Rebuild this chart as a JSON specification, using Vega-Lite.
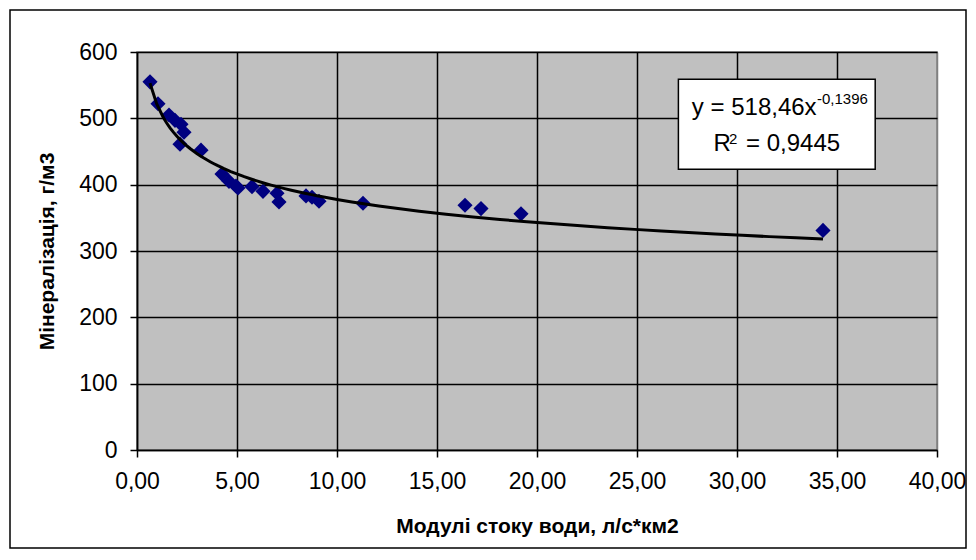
{
  "$schema": "https://vega.github.io/schema/vega-lite/v6.json",
  "width": 800,
  "height": 398,
  "autosize": {"type": "none"},
  "padding": {"left": 137, "top": 52, "right": 39, "bottom": 110},
  "background": "white",
  "config": {
    "font": "Liberation Sans",
    "view": {"fill": "#C0C0C0", "stroke": "#808080", "strokeWidth": 1.5},
    "axis": {
      "domainColor": "black",
      "domainWidth": 1.5,
      "tickColor": "black",
      "tickWidth": 1.5,
      "tickSize": 7,
      "gridWidth": 1.5,
      "labelFlush": false,
      "labelFont": "Liberation Sans",
      "labelFontSize": 23,
      "labelColor": "black",
      "titleFont": "Liberation Sans",
      "titleFontSize": 21,
      "titleFontWeight": "bold",
      "titleColor": "black"
    }
  },
  "datasets": {
    "points": [
      {"Q": 0.65, "M": 555},
      {"Q": 1.05, "M": 522},
      {"Q": 1.6, "M": 505},
      {"Q": 1.9, "M": 497},
      {"Q": 2.2, "M": 491},
      {"Q": 2.35, "M": 479},
      {"Q": 2.15, "M": 461},
      {"Q": 3.2, "M": 452},
      {"Q": 4.25, "M": 416},
      {"Q": 4.6, "M": 405},
      {"Q": 4.95, "M": 398},
      {"Q": 5.05, "M": 395},
      {"Q": 5.75, "M": 397},
      {"Q": 6.3, "M": 390},
      {"Q": 7.0, "M": 387},
      {"Q": 7.1, "M": 374},
      {"Q": 8.45, "M": 383},
      {"Q": 8.75, "M": 381},
      {"Q": 9.1, "M": 375},
      {"Q": 11.3, "M": 372},
      {"Q": 16.4, "M": 369},
      {"Q": 17.2, "M": 364},
      {"Q": 19.2, "M": 356},
      {"Q": 34.3, "M": 331}
    ],
    "one": [{"k": 1}]
  },
  "layer": [
    {
      "data": {"name": "points"},
      "mark": {"type": "point", "shape": "diamond", "filled": true, "color": "#000080", "opacity": 1, "size": 230},
      "encoding": {
        "x": {
          "field": "Q",
          "type": "quantitative",
          "scale": {"domain": [0, 40], "nice": false, "zero": false},
          "axis": {
            "title": "Модулі стоку води, л/с*км2",
            "values": [0, 5, 10, 15, 20, 25, 30, 35, 40],
            "labelExpr": "replace(format(datum.value, '.2f'), '.', ',')",
            "labelPadding": 13,
            "titlePadding": 22,
            "grid": true,
            "gridColor": {"condition": {"test": "datum.value === 40", "value": "#808080"}, "value": "black"}
          }
        },
        "y": {
          "field": "M",
          "type": "quantitative",
          "scale": {"domain": [0, 600], "nice": false},
          "axis": {
            "title": "Мінералізація,  г/м3",
            "values": [0, 100, 200, 300, 400, 500, 600],
            "labelPadding": 13,
            "titlePadding": 21,
            "grid": true,
            "gridColor": "black"
          }
        }
      }
    },
    {
      "data": {"name": "points"},
      "transform": [{"regression": "M", "on": "Q", "method": "pow"}],
      "mark": {"type": "line", "color": "black", "strokeWidth": 3},
      "encoding": {
        "x": {"field": "Q", "type": "quantitative"},
        "y": {"field": "M", "type": "quantitative"}
      }
    },
    {
      "data": {"name": "one"},
      "mark": {"type": "rect", "fill": "white", "fillOpacity": 0, "stroke": "black", "strokeWidth": 1.5, "clip": false},
      "encoding": {
        "x": {"datum": -6.35, "type": "quantitative"},
        "x2": {"datum": 41.45},
        "y": {"datum": 663.3, "type": "quantitative"},
        "y2": {"datum": -147.7}
      }
    },
    {
      "data": {"name": "one"},
      "mark": {"type": "rect", "fill": "white", "stroke": "black", "strokeWidth": 1.5},
      "encoding": {
        "x": {"datum": 27.07, "type": "quantitative"},
        "x2": {"datum": 36.91},
        "y": {"datum": 558.9, "type": "quantitative"},
        "y2": {"datum": 423.2}
      }
    },
    {
      "data": {"name": "one"},
      "mark": {"type": "text", "text": "y = 518,46x", "align": "right", "baseline": "middle", "fontSize": 24, "color": "black"},
      "encoding": {"x": {"datum": 33.98, "type": "quantitative"}, "y": {"datum": 515.6, "type": "quantitative"}}
    },
    {
      "data": {"name": "one"},
      "mark": {"type": "text", "text": "-0,1396", "align": "left", "baseline": "middle", "fontSize": 15, "color": "black"},
      "encoding": {"x": {"datum": 34.0, "type": "quantitative"}, "y": {"datum": 529.2, "type": "quantitative"}}
    },
    {
      "data": {"name": "one"},
      "mark": {"type": "text", "text": "R", "align": "left", "baseline": "middle", "fontSize": 24, "color": "black"},
      "encoding": {"x": {"datum": 28.82, "type": "quantitative"}, "y": {"datum": 461.3, "type": "quantitative"}}
    },
    {
      "data": {"name": "one"},
      "mark": {"type": "text", "text": "2", "align": "left", "baseline": "middle", "fontSize": 15, "color": "black"},
      "encoding": {"x": {"datum": 29.6, "type": "quantitative"}, "y": {"datum": 469, "type": "quantitative"}}
    },
    {
      "data": {"name": "one"},
      "mark": {"type": "text", "text": "= 0,9445", "align": "left", "baseline": "middle", "fontSize": 24, "color": "black"},
      "encoding": {"x": {"datum": 30.45, "type": "quantitative"}, "y": {"datum": 461.3, "type": "quantitative"}}
    }
  ]
}
